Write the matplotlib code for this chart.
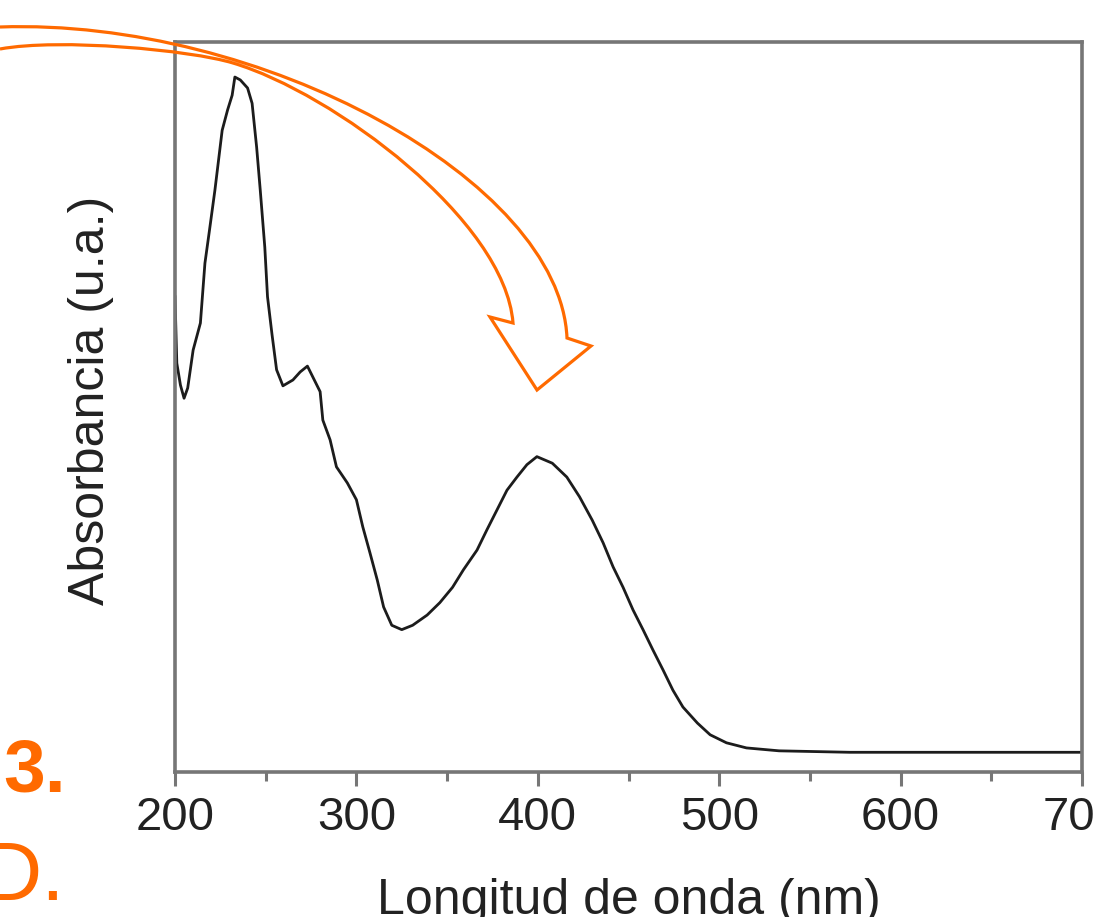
import matplotlib
matplotlib.use("Agg")
import matplotlib.pyplot as plt
from matplotlib.path import Path
from matplotlib.patches import PathPatch
from matplotlib.ticker import MultipleLocator
from matplotlib.transforms import Affine2D

plt.rcParams['font.family'] = ['Liberation Sans', 'DejaVu Sans']

# ---- data ----
wavelength_nm = [200, 201, 203, 205, 207, 210, 214, 216.5, 219, 222,
                 226, 229, 231.5, 233, 236, 240, 242.5, 245, 247, 249.5,
                 251, 253.5, 256, 259.5, 265, 269, 273, 276, 280, 281.5,
                 285.5, 289, 295, 300, 303.5, 307.5, 311.5, 315, 319.5, 325,
                 331, 339, 346, 353, 359, 366.5, 372, 377.5, 383, 388.5,
                 394, 399.5, 408, 416, 423, 430, 436, 441.5, 447, 452.5,
                 458, 463.5, 469, 474.5, 480, 488, 495, 504, 515, 533,
                 572, 627, 700]
absorbance = [0.651, 0.560, 0.530, 0.512, 0.526, 0.578, 0.615, 0.697, 0.742, 0.797,
              0.879, 0.907, 0.927, 0.952, 0.948, 0.937, 0.916, 0.856, 0.797, 0.719,
              0.651, 0.599, 0.551, 0.529, 0.537, 0.548, 0.556, 0.541, 0.521, 0.482,
              0.455, 0.418, 0.396, 0.373, 0.336, 0.300, 0.263, 0.226, 0.201, 0.195,
              0.201, 0.215, 0.232, 0.253, 0.277, 0.304, 0.332, 0.359, 0.386, 0.404,
              0.421, 0.432, 0.423, 0.404, 0.377, 0.345, 0.314, 0.281, 0.253, 0.222,
              0.195, 0.167, 0.140, 0.112, 0.089, 0.067, 0.051, 0.040, 0.033, 0.029,
              0.027, 0.027, 0.027]
x_ticks = [200, 300, 400, 500, 600, 700]
x_label = "Longitud de onda (nm)"
y_label = "Absorbancia (u.a.)"
side_texts = ["3.", "D."]

W, H = 1096, 917
fig = plt.figure(figsize=(W / 100, H / 100), dpi=100)
fig.patch.set_facecolor('white')

ax = fig.add_axes([175 / W, 1 - 772 / H, (1082 - 175) / W, (772 - 42) / H])
ax.plot(wavelength_nm, absorbance, color='#1c1c1c', lw=2.0, solid_joinstyle='round')
ax.set_xlim(200, 700)
ax.set_ylim(0, 1)
ax.set_xticks(x_ticks)
ax.set_xticklabels([str(t) for t in x_ticks])
ax.xaxis.set_minor_locator(MultipleLocator(50))
ax.set_yticks([])
frame_col = '#767676'
for s in ax.spines.values():
    s.set_color(frame_col)
    s.set_linewidth(2.6)
ax.tick_params(axis='x', which='major', direction='out', length=10, width=2.2,
               color=frame_col, labelsize=34, labelcolor='#222222', pad=7)
ax.tick_params(axis='x', which='minor', direction='out', length=6.5, width=2.2,
               color=frame_col)

fig.text(628.5 / W, 1 - 914 / H, x_label, ha='center', va='baseline',
         fontsize=36, color='#222222')
fig.text(91 / W, 1 - 400 / H, y_label, ha='center', va='center', rotation=90,
         fontsize=36, color='#222222')

orange = '#FF6A00'
fig.text(66 / W, 1 - 792 / H, side_texts[0], ha='right', va='baseline',
         fontsize=54, fontweight='bold', color=orange)
fig.text(65 / W, 1 - 900 / H, side_texts[1], ha='right', va='baseline',
         fontsize=60, color=orange)

# ---- curved block arrow (decoration, pixel coordinates) ----
px = Affine2D().scale(1 / W, -1 / H).translate(0, 1) + fig.transFigure
verts = [
    (0, 27), (260, 18), (560, 180), (567, 338),      # outer edge (cubic)
    (591, 346), (537, 390), (490, 317), (513, 323),  # head
    (505, 220), (333, 93), (233, 63),                # inner edge, part 1
    (190, 50), (60, 38), (0, 49),                    # inner edge, part 2
]
codes = [Path.MOVETO, Path.CURVE4, Path.CURVE4, Path.CURVE4,
         Path.LINETO, Path.LINETO, Path.LINETO, Path.LINETO,
         Path.CURVE4, Path.CURVE4, Path.CURVE4,
         Path.CURVE4, Path.CURVE4, Path.CURVE4]
arrow = PathPatch(Path(verts, codes), facecolor='none', edgecolor=orange,
                  lw=2.3, joinstyle='miter', transform=px, zorder=10)
fig.add_artist(arrow)

fig.savefig('out.png', dpi=100)
